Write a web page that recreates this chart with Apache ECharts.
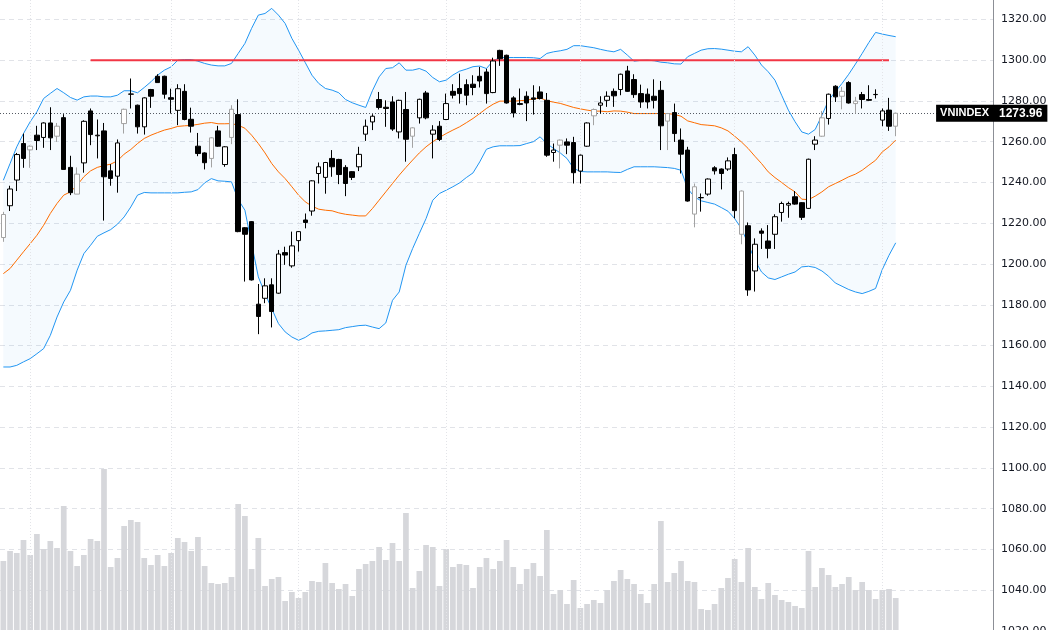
<!DOCTYPE html>
<html>
<head>
<meta charset="utf-8">
<title>VNINDEX</title>
<script src="https://cdn.jsdelivr.net/npm/echarts@6/dist/echarts.min.js"></script>
<style>
  html, body { margin: 0; padding: 0; background: #fff; }
  #chart { width: 1050px; height: 630px; }
</style>
</head>
<body>
<div id="chart"></div>
<script>
// daily candles: [open, close, low, high]
const candles = [
  [1213.0, 1224.3, 1210.9, 1225.6], [1228.6, 1236.8, 1226.0, 1238.4], [1241.2, 1253.7, 1235.8, 1254.5],
  [1259.1, 1251.8, 1247.2, 1264.0], [1256.0, 1257.8, 1247.2, 1258.2], [1263.2, 1260.6, 1255.9, 1267.8],
  [1262.1, 1269.2, 1257.0, 1269.5], [1269.2, 1261.9, 1255.9, 1276.9], [1262.7, 1267.6, 1259.9, 1269.2],
  [1271.8, 1246.4, 1246.4, 1273.5], [1247.4, 1235.0, 1233.8, 1253.1], [1234.3, 1244.1, 1234.3, 1247.4],
  [1249.6, 1270.0, 1244.8, 1270.5], [1275.1, 1263.5, 1258.3, 1276.3], [1262.9, 1263.2, 1251.8, 1270.9],
  [1265.3, 1242.8, 1221.3, 1269.2], [1245.7, 1242.0, 1238.4, 1249.0], [1243.1, 1259.4, 1235.0, 1261.1],
  [1268.9, 1275.9, 1264.0, 1276.2], [1283.3, 1283.4, 1276.3, 1291.0], [1277.9, 1267.3, 1264.0, 1278.2],
  [1267.3, 1281.5, 1263.5, 1281.8], [1285.6, 1282.3, 1276.6, 1285.9], [1292.1, 1289.0, 1289.0, 1293.1],
  [1292.1, 1283.3, 1281.1, 1292.4], [1281.6, 1280.8, 1273.8, 1286.0], [1275.4, 1286.0, 1268.1, 1288.2],
  [1284.7, 1270.9, 1270.5, 1288.2], [1271.0, 1267.6, 1264.5, 1276.7], [1257.8, 1254.2, 1252.9, 1264.3],
  [1254.5, 1249.7, 1246.4, 1254.8], [1251.8, 1261.9, 1247.4, 1262.2], [1265.3, 1257.8, 1257.5, 1267.8],
  [1248.8, 1257.5, 1247.7, 1257.8], [1262.1, 1275.9, 1258.8, 1277.9], [1273.3, 1215.9, 1215.6, 1280.8],
  [1217.8, 1214.6, 1191.4, 1218.1], [1220.8, 1192.2, 1191.9, 1221.1], [1180.3, 1174.3, 1165.6, 1190.2],
  [1183.2, 1189.3, 1180.8, 1193.0], [1189.8, 1176.7, 1168.9, 1193.0], [1185.7, 1204.9, 1185.4, 1206.9],
  [1205.6, 1204.4, 1199.6, 1208.5], [1199.1, 1208.9, 1198.2, 1215.9], [1211.5, 1215.9, 1206.1, 1216.2],
  [1221.6, 1220.4, 1217.5, 1224.8], [1226.0, 1240.8, 1223.7, 1241.1], [1244.4, 1247.7, 1239.5, 1249.8],
  [1242.5, 1249.8, 1234.5, 1250.1], [1251.8, 1247.7, 1242.8, 1255.9], [1251.3, 1243.9, 1239.2, 1251.6],
  [1247.4, 1239.5, 1233.3, 1248.5], [1245.3, 1242.5, 1241.2, 1245.6], [1247.7, 1253.8, 1245.6, 1257.5],
  [1263.7, 1267.6, 1260.4, 1270.9], [1269.7, 1272.5, 1265.7, 1273.5], [1280.7, 1276.8, 1275.8, 1284.4],
  [1276.9, 1276.3, 1267.3, 1280.3], [1279.5, 1266.2, 1265.3, 1282.3], [1264.8, 1280.3, 1261.6, 1280.6],
  [1275.8, 1261.2, 1250.2, 1284.4], [1262.7, 1266.8, 1257.0, 1267.1], [1271.7, 1280.8, 1268.9, 1281.1],
  [1283.9, 1271.7, 1271.0, 1284.9], [1263.7, 1265.7, 1251.8, 1268.1], [1267.6, 1261.1, 1260.3, 1270.1],
  [1270.9, 1278.7, 1270.6, 1283.6], [1284.7, 1282.8, 1281.2, 1288.2], [1286.1, 1283.6, 1278.7, 1293.4],
  [1288.0, 1282.8, 1277.9, 1290.6], [1288.2, 1286.6, 1282.8, 1292.6], [1292.1, 1289.8, 1286.6, 1296.7],
  [1294.2, 1283.6, 1278.7, 1295.8], [1284.1, 1299.6, 1283.8, 1301.2], [1304.8, 1300.7, 1297.2, 1305.1],
  [1302.4, 1279.0, 1278.7, 1302.7], [1281.5, 1274.1, 1271.9, 1282.3], [1278.7, 1278.3, 1277.9, 1286.1],
  [1282.3, 1279.0, 1270.1, 1284.7], [1281.5, 1280.8, 1273.3, 1287.7], [1284.4, 1281.2, 1280.7, 1287.2],
  [1280.3, 1253.4, 1252.6, 1283.9], [1254.7, 1255.9, 1250.2, 1259.1], [1258.3, 1260.8, 1246.9, 1261.1],
  [1259.9, 1258.3, 1253.9, 1261.6], [1259.6, 1244.8, 1239.5, 1262.4], [1245.6, 1253.4, 1239.5, 1253.7],
  [1257.8, 1269.2, 1257.5, 1269.5], [1272.7, 1275.8, 1268.1, 1276.3], [1277.9, 1279.0, 1273.8, 1282.3],
  [1280.3, 1282.3, 1277.1, 1284.7], [1284.7, 1282.5, 1277.1, 1286.1], [1285.6, 1293.1, 1282.8, 1293.4],
  [1294.7, 1284.7, 1284.4, 1297.2], [1290.5, 1283.1, 1281.5, 1293.1], [1283.6, 1279.5, 1276.6, 1288.0],
  [1283.3, 1279.5, 1276.3, 1286.1], [1282.3, 1280.3, 1276.3, 1290.6], [1285.2, 1267.8, 1255.9, 1289.8],
  [1270.1, 1273.8, 1255.9, 1274.1], [1274.3, 1264.0, 1259.9, 1278.7], [1260.8, 1253.9, 1244.4, 1266.5],
  [1255.9, 1230.9, 1230.6, 1257.5], [1224.5, 1237.9, 1218.0, 1239.5], [1232.5, 1232.6, 1225.7, 1234.6],
  [1234.3, 1241.7, 1233.5, 1242.0], [1247.2, 1245.7, 1243.9, 1248.0], [1246.6, 1244.4, 1236.6, 1246.9],
  [1246.6, 1250.6, 1245.7, 1252.3], [1253.7, 1226.2, 1222.4, 1257.0], [1214.6, 1235.8, 1209.7, 1236.1],
  [1218.8, 1187.3, 1184.4, 1220.4], [1196.6, 1209.7, 1186.5, 1212.6], [1216.2, 1215.1, 1207.4, 1217.5],
  [1211.3, 1207.7, 1202.8, 1219.1], [1214.6, 1223.2, 1207.4, 1224.4], [1225.3, 1229.7, 1220.8, 1230.6],
  [1228.9, 1229.7, 1222.7, 1230.6], [1233.0, 1229.4, 1229.1, 1235.8], [1230.1, 1222.9, 1221.6, 1230.4],
  [1227.3, 1251.4, 1227.0, 1251.7], [1258.8, 1260.8, 1255.9, 1262.7], [1262.7, 1271.7, 1262.4, 1275.1],
  [1271.4, 1283.3, 1268.4, 1283.6], [1287.2, 1282.0, 1279.5, 1287.7], [1282.3, 1284.7, 1275.9, 1286.9],
  [1289.0, 1279.0, 1278.7, 1289.7], [1278.7, 1279.9, 1273.8, 1282.0], [1283.1, 1280.7, 1276.3, 1284.4],
  [1280.7, 1280.3, 1280.0, 1287.7], [1283.1, 1283.2, 1281.2, 1285.7], [1270.6, 1275.1, 1267.6, 1276.3],
  [1275.5, 1267.6, 1265.3, 1281.5], [1267.6, 1273.96, 1262.7, 1274.3]
];

// candles drawn with a grey outline
const greyCandles = [0, 4, 8, 11, 18, 31, 34, 61, 83, 88, 99, 103, 110, 122, 125, 127, 133];

const volumes = [
  69, 79, 77, 90, 75, 96, 81, 89, 82, 124, 79, 64, 75, 91, 89, 161, 63, 72, 104, 110,
  108, 72, 65, 75, 64, 77, 92, 88, 79, 93, 64, 47, 46, 47, 53, 126, 114, 61, 92, 44,
  51, 53, 29, 38, 32, 38, 49, 48, 67, 47, 41, 46, 34, 61, 66, 69, 83, 70, 87, 69,
  117, 42, 59, 85, 83, 44, 81, 63, 66, 65, 42, 63, 72, 61, 69, 90, 63, 46, 61, 67,
  54, 100, 36, 40, 26, 50, 22, 26, 30, 27, 40, 49, 60, 51, 46, 36, 27, 46, 109, 48,
  57, 69, 49, 48, 21, 20, 26, 42, 52, 71, 48, 82, 43, 31, 47, 35, 30, 28, 24, 22,
  79, 43, 62, 55, 43, 46, 53, 40, 48, 40, 31, 40, 41, 32
];

// Bollinger bands (20) as drawn
const bbUpper = [
  1241.1, 1249.3, 1257.5, 1264.0, 1269.8, 1274.7, 1281.2, 1283.7, 1286.1, 1284.0,
  1281.7, 1280.4, 1282.0, 1282.4, 1282.4, 1282.0, 1282.0, 1282.8, 1285.0, 1285.0,
  1284.0, 1286.6, 1289.4, 1292.7, 1295.1, 1296.7, 1300.0, 1300.3, 1300.3, 1299.5,
  1298.4, 1297.6, 1297.2, 1297.2, 1298.4, 1303.3, 1308.2, 1315.6, 1322.1, 1322.9,
  1325.4, 1322.1, 1318.0, 1310.7, 1304.9, 1298.8, 1292.6, 1288.6, 1286.1, 1285.3,
  1284.0, 1280.7, 1279.1, 1277.9, 1276.8, 1285.0, 1291.8, 1295.9, 1296.3, 1298.7,
  1295.1, 1295.1, 1295.9, 1294.6, 1291.5, 1289.4, 1290.2, 1292.7, 1294.6, 1295.6,
  1296.8, 1297.1, 1295.9, 1299.7, 1301.3, 1301.3, 1301.3, 1301.3, 1301.3, 1301.2,
  1300.8, 1303.3, 1304.1, 1304.6, 1305.3, 1307.1, 1307.1, 1306.6, 1306.1, 1305.3,
  1304.6, 1304.1, 1305.3, 1302.5, 1299.5, 1299.9, 1300.0, 1299.7, 1299.0, 1298.7,
  1298.2, 1298.1, 1301.7, 1303.3, 1304.9, 1305.6, 1305.7, 1305.4, 1304.9, 1304.4,
  1304.1, 1306.6, 1302.5, 1297.6, 1294.3, 1290.2, 1282.8, 1275.5, 1269.8, 1264.8,
  1263.7, 1266.0, 1273.0, 1280.4, 1284.5, 1288.6, 1293.1, 1298.1, 1303.3, 1308.7,
  1313.6, 1312.8, 1312.1, 1311.5
];
const bbBasis = [
  1195.3, 1197.8, 1201.9, 1206.0, 1210.0, 1214.1, 1219.0, 1224.8, 1229.7, 1233.8,
  1235.4, 1238.7, 1242.8, 1245.7, 1247.4, 1248.3, 1249.0, 1250.6, 1253.9, 1256.2,
  1259.1, 1261.6, 1263.2, 1264.5, 1265.7, 1266.5, 1267.5, 1267.8, 1268.0, 1268.5,
  1269.1, 1269.4, 1268.8, 1268.8, 1268.9, 1268.1, 1266.6, 1263.2, 1259.1, 1254.5,
  1249.3, 1245.2, 1241.9, 1237.9, 1233.8, 1230.5, 1228.4, 1226.9, 1226.4, 1226.1,
  1225.1, 1224.4, 1224.0, 1223.6, 1223.6, 1227.2, 1231.3, 1235.4, 1239.5, 1243.6,
  1247.4, 1251.0, 1254.5, 1257.5, 1260.0, 1262.1, 1264.0, 1265.7, 1267.3, 1269.3,
  1271.4, 1273.8, 1276.3, 1278.4, 1279.9, 1279.9, 1279.9, 1280.1, 1280.4, 1281.0,
  1281.5, 1280.1, 1279.4, 1278.8, 1277.8, 1276.8, 1276.1, 1275.5, 1275.0, 1275.0,
  1274.7, 1275.1, 1275.0, 1274.5, 1273.8, 1273.8, 1273.8, 1273.8, 1273.8, 1273.8,
  1273.4, 1272.5, 1270.2, 1269.3, 1268.4, 1268.1, 1267.8, 1266.8, 1265.3, 1262.7,
  1259.9, 1256.7, 1252.9, 1249.3, 1245.2, 1242.4, 1240.0, 1237.5, 1235.4, 1231.8,
  1231.6, 1233.3, 1235.4, 1237.9, 1239.5, 1241.1, 1242.8, 1244.1, 1246.0, 1248.5,
  1250.9, 1255.0, 1257.5, 1260.8
];
const bbLower = [
  1149.5, 1149.5, 1150.3, 1152.0, 1153.6, 1156.0, 1158.5, 1165.0, 1174.0, 1181.4,
  1187.1, 1197.0, 1205.1, 1209.2, 1213.6, 1215.3, 1216.9, 1219.5, 1223.1, 1228.0,
  1233.8, 1235.1, 1234.9, 1234.9, 1234.9, 1234.9, 1234.9, 1235.2, 1235.4, 1236.5,
  1239.8, 1241.9, 1240.8, 1240.6, 1240.3, 1231.6, 1226.4, 1210.0, 1193.7, 1185.5,
  1178.1, 1170.8, 1166.7, 1164.2, 1162.6, 1164.0, 1166.2, 1167.0, 1167.2, 1167.5,
  1167.8, 1168.8, 1169.3, 1169.8, 1170.0, 1169.1, 1168.3, 1171.1, 1182.2, 1186.3,
  1199.4, 1207.6, 1215.0, 1222.3, 1231.3, 1234.6, 1236.2, 1237.9, 1239.8, 1242.4,
  1244.7, 1250.1, 1256.3, 1257.5, 1258.0, 1258.0, 1258.0, 1258.1, 1259.1, 1260.0,
  1262.4, 1259.1, 1256.7, 1254.5, 1251.8, 1246.9, 1245.4, 1245.2, 1245.2, 1245.2,
  1245.2, 1245.0, 1244.9, 1246.4, 1247.7, 1247.7, 1247.7, 1247.7, 1247.5, 1247.3,
  1246.9, 1246.0, 1237.0, 1232.9, 1231.0, 1230.2, 1229.4, 1227.7, 1225.9, 1222.3,
  1217.4, 1210.0, 1201.9, 1196.1, 1193.2, 1192.4, 1193.7, 1195.0, 1196.1, 1198.6,
  1198.9, 1198.3, 1196.6, 1194.0, 1190.7, 1189.1, 1187.5, 1186.3, 1185.5, 1186.6,
  1188.0, 1197.3, 1204.3, 1210.4
];

// resistance line: level and first / last candle it spans
const resistance = 1300;
const resistanceFrom = 13;
const resistanceTo = 132;

// candles where the dotted month separators fall
const monthStarts = [4, 25, 44, 66, 86, 109, 131];

const symbolName = "VNINDEX";
const slots = 148; // candles plus empty space on the right
const lastClose = candles[candles.length - 1][1];

let categories = [];
for (let i = 0; i < slots; i++) {
  categories.push(String(i + 1));
}

let candleData = candles.map((c, i) => {
  let item = { value: c };
  if (greyCandles.indexOf(i) >= 0) {
    item.itemStyle = {
      color: c[1] >= c[0] ? "#ffffff" : "#a3a3a3",
      borderColor: "#a3a3a3",
      color0: "#a3a3a3",
      borderColor0: "#a3a3a3",
    };
  }
  return item;
});

let bandWidth = bbUpper.map((u, i) => +(u - bbLower[i]).toFixed(2));

var chartDom = document.getElementById("chart");
var myChart = echarts.init(chartDom, null, { renderer: "canvas" });
var option;

const labelFont = "DejaVu Sans";
const priceLineStyle = { color: "#555a63", type: [1, 2], width: 1 };

option = {
  animation: false,
  backgroundColor: "#ffffff",
  grid: [
    { left: 0, right: 57, top: -1, bottom: -1, outerBoundsMode: "none" },
    { left: 0, right: 57, top: 430, bottom: 0, outerBoundsMode: "none" },
  ],
  xAxis: [
    {
      type: "category",
      gridIndex: 0,
      data: categories,
      boundaryGap: true,
      axisLine: { show: false },
      axisTick: { show: false },
      axisLabel: { show: false },
      splitLine: { show: false },
    },
    {
      type: "category",
      gridIndex: 1,
      data: categories,
      boundaryGap: true,
      axisLine: { show: false },
      axisTick: { show: false },
      axisLabel: { show: false },
      splitLine: { show: false },
    },
  ],
  yAxis: [
    {
      type: "value",
      gridIndex: 0,
      position: "right",
      min: 1020,
      max: 1330,
      interval: 20,
      axisLine: { show: true, lineStyle: { color: "#8c8f96", width: 1 } },
      axisTick: { show: false },
      axisLabel: {
        color: "#131722",
        fontFamily: labelFont,
        fontSize: 11,
        margin: 8,
        showMaxLabel: false,
        formatter: function (v) {
          return v.toFixed(2);
        },
      },
      splitLine: {
        show: true,
        lineStyle: { color: "#e1e3e8", type: [5, 4], width: 1 },
      },
    },
    {
      type: "value",
      gridIndex: 1,
      min: 0,
      max: 200,
      show: false,
    },
  ],
  series: [
    {
      name: "volume",
      type: "bar",
      xAxisIndex: 1,
      yAxisIndex: 1,
      barWidth: "85%",
      itemStyle: { color: "#d6d7db" },
      data: volumes,
      z: 1,
    },
    {
      name: "bbBase",
      type: "line",
      stack: "bb",
      data: bbLower,
      symbol: "none",
      lineStyle: { opacity: 0 },
      silent: true,
      z: 2,
    },
    {
      name: "bbFill",
      type: "line",
      stack: "bb",
      data: bandWidth,
      symbol: "none",
      lineStyle: { opacity: 0 },
      areaStyle: { color: "rgba(33,150,243,0.06)" },
      silent: true,
      z: 2,
    },
    {
      name: "upper",
      type: "line",
      data: bbUpper,
      symbol: "none",
      lineStyle: { color: "#2196f3", width: 1 },
      z: 3,
    },
    {
      name: "lower",
      type: "line",
      data: bbLower,
      symbol: "none",
      lineStyle: { color: "#2196f3", width: 1 },
      z: 3,
    },
    {
      name: "basis",
      type: "line",
      data: bbBasis,
      symbol: "none",
      lineStyle: { color: "#ff6d00", width: 1 },
      z: 3,
    },
    {
      name: "resistance",
      type: "line",
      data: [
        [resistanceFrom, resistance],
        [resistanceTo, resistance],
      ],
      symbol: "none",
      lineStyle: { color: "#f23645", width: 2 },
      z: 4,
    },
    {
      name: symbolName,
      type: "candlestick",
      barWidth: 5,
      data: candleData,
      itemStyle: {
        color: "#ffffff",
        color0: "#000000",
        borderColor: "#000000",
        borderColor0: "#000000",
        borderWidth: 1,
      },
      z: 5,
      markLine: {
        silent: true,
        symbol: "none",
        animation: false,
        data: [
          {
            yAxis: lastClose,
            lineStyle: priceLineStyle,
            label: {
              show: true,
              position: "end",
              distance: 0,
              formatter: lastClose.toFixed(2),
              backgroundColor: "#000000",
              color: "#ffffff",
              fontFamily: "Liberation Sans",
              fontWeight: "bold",
              fontSize: 12,
              padding: [3, 5, 2, 6],
            },
          },
          {
            yAxis: lastClose,
            lineStyle: priceLineStyle,
            label: {
              show: true,
              position: "end",
              distance: 0,
              align: "right",
              verticalAlign: "middle",
              opacity: 1,
              formatter: symbolName,
              backgroundColor: "#000000",
              color: "#ffffff",
              fontFamily: "Liberation Sans",
              fontWeight: "bold",
              fontSize: 11,
              padding: [3, 4, 3, 4],
            },
          },
        ].concat(
          monthStarts.map(function (i) {
            return {
              xAxis: i,
              lineStyle: { color: "#e3e4e8", type: [1, 2], width: 1 },
              label: { show: false },
            };
          })
        ),
      },
    },
  ],
};

option && myChart.setOption(option);
</script>
</body>
</html>
